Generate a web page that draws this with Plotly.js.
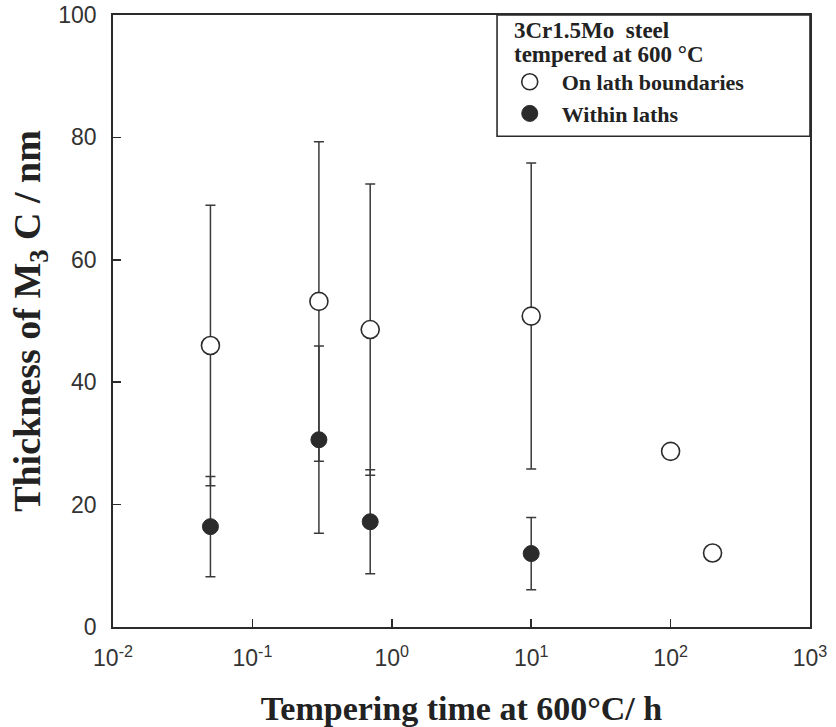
<!DOCTYPE html>
<html>
<head>
<meta charset="utf-8">
<script src="https://cdn.plot.ly/plotly-3.0.1.min.js"></script>
<style>html,body{margin:0;padding:0;background:#fff;}#chart{width:836px;height:727px;}</style>
</head>
<body>
<div id="chart"></div>
<script>
// Tempering time (h) and M3C thickness (nm)
const boundaryTime = [0.05, 0.3, 0.7, 10, 100, 200];
const boundaryThickness = [46.0, 53.2, 48.6, 50.8, 28.7, 12.1];
const boundaryError = [22.9, 26.1, 23.8, 25.0, NaN, NaN];

const withinTime = [0.05, 0.3, 0.7, 10];
const withinThickness = [16.4, 30.6, 17.2, 12.0];
const withinError = [8.2, 15.3, 8.5, 5.9];

const xTickVals = [0.01, 0.1, 1, 10, 100, 1000];
const xTickText = ['10<sup>-2</sup>', '10<sup>-1</sup>', '10<sup>0</sup>', '10<sup>1</sup>', '10<sup>2</sup>', '10<sup>3</sup>'];
const yTickVals = [0, 20, 40, 60, 80, 100];

const legendHeading = ['3Cr1.5Mo  steel', 'tempered at 600 °C'];

const ink = '#2b2b2b';
const serif = 'Liberation Serif, Times New Roman, serif';
const sans = 'Liberation Sans, Arial, sans-serif';

const traces = [
  {
    x: boundaryTime, y: boundaryThickness, type: 'scatter', mode: 'markers',
    name: 'On lath boundaries',
    marker: {symbol: 'circle', size: 18, color: '#ffffff', line: {color: ink, width: 1.6}},
    error_y: {type: 'data', array: boundaryError, visible: true, color: '#3a3a3a', thickness: 1.5, width: 5}
  },
  {
    x: withinTime, y: withinThickness, type: 'scatter', mode: 'markers',
    name: 'Within laths',
    marker: {symbol: 'circle', size: 16, color: ink, line: {color: ink, width: 1}},
    error_y: {type: 'data', array: withinError, visible: true, color: '#3a3a3a', thickness: 1.5, width: 5}
  }
];

const plotTop = 15, plotH = 612;
const pyFromPx = px => 1 - (px - plotTop) / plotH;

const layout = {
  width: 836, height: 727,
  margin: {l: 113, r: 26, t: 15, b: 100, autoexpand: false},
  paper_bgcolor: '#ffffff', plot_bgcolor: '#ffffff',
  showlegend: true,
  xaxis: {
    type: 'log', range: [-2, 3],
    tickmode: 'array', tickvals: xTickVals, ticktext: xTickText,
    ticks: 'inside', ticklen: 8, tickwidth: 1.5, tickcolor: ink,
    showline: true, linecolor: ink, linewidth: 1.8, mirror: true,
    showgrid: false, zeroline: false,
    ticklabelstandoff: 10,
    tickfont: {family: sans, size: 23, color: '#333'},
    title: {text: 'Tempering time at 600°C/ h', font: {family: serif, size: 34, color: '#222', weight: 'bold'}, standoff: 26}
  },
  yaxis: {
    range: [0, 100],
    tickmode: 'array', tickvals: yTickVals,
    ticks: 'inside', ticklen: 8, tickwidth: 1.5, tickcolor: ink,
    showline: true, linecolor: ink, linewidth: 1.8, mirror: true,
    showgrid: false, zeroline: false,
    ticklabelstandoff: 10,
    tickfont: {family: sans, size: 23, color: '#333'},
    title: {text: 'Thickness of M<sub>3</sub> C / nm', font: {family: serif, size: 38, color: '#222', weight: 'bold'}, standoff: 6}
  },
  legend: {
    x: 0.552, xanchor: 'left', y: pyFromPx(61), yanchor: 'top',
    bgcolor: 'rgba(0,0,0,0)', borderwidth: 0,
    font: {family: serif, size: 22, color: '#222', weight: 'bold'},
    itemwidth: 54, tracegroupgap: 0
  },
  annotations: legendHeading.map((t, i) => ({
    text: t, xref: 'paper', yref: 'paper', x: 0.573, y: pyFromPx(30 + i * 25),
    xanchor: 'left', yanchor: 'middle', showarrow: false,
    font: {family: serif, size: 23, color: '#222', weight: 'bold'}
  })),
  shapes: [{
    type: 'rect', xref: 'paper', yref: 'paper',
    x0: 0.551, x1: 1, y0: 0.802, y1: 1,
    line: {color: ink, width: 1.6}, fillcolor: 'rgba(0,0,0,0)', layer: 'above'
  }]
};

Plotly.newPlot('chart', traces, layout, {displayModeBar: false, staticPlot: true});
</script>
</body>
</html>
